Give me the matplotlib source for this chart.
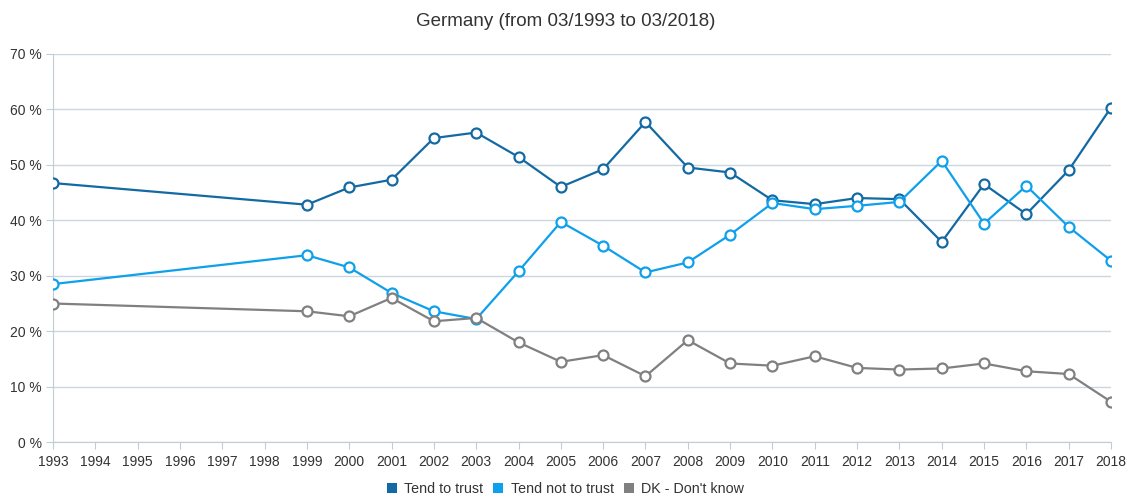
import matplotlib
matplotlib.use("Agg")
import matplotlib.pyplot as plt
from matplotlib.patches import Patch

plt.rcParams['font.family'] = ['Liberation Sans', 'DejaVu Sans']

years = [1993, 1999, 2000, 2001, 2002, 2003, 2004, 2005, 2006, 2007, 2008, 2009,
         2010, 2011, 2012, 2013, 2014, 2015, 2016, 2017, 2018]
trust = [46.7, 42.8, 45.9, 47.3, 54.8, 55.8, 51.4, 46.0, 49.2, 57.7, 49.5, 48.6,
         43.6, 42.9, 44.0, 43.8, 36.1, 46.5, 41.1, 49.0, 60.3]
not_trust = [28.5, 33.7, 31.5, 26.9, 23.6, 22.2, 30.8, 39.7, 35.4, 30.6, 32.4, 37.4,
             43.1, 42.0, 42.6, 43.3, 50.7, 39.4, 46.2, 38.8, 32.7]
dont_know = [25.0, 23.6, 22.7, 26.0, 21.8, 22.4, 18.0, 14.5, 15.7, 11.9, 18.4, 14.2,
             13.8, 15.5, 13.4, 13.1, 13.3, 14.2, 12.8, 12.3, 7.3]
series_names = ["Tend to trust", "Tend not to trust", "DK - Don't know"]
colors = ["#136aa3", "#0ea0ea", "#808080"]
tick_years = list(range(1993, 2019))
y_ticks = list(range(0, 71, 10))

fig = plt.figure(figsize=(11.31, 4.98), dpi=100)
ax = fig.add_axes([53/1131, 1-442.3/498, (1111-53)/1131, (442.3-53.7)/498])

for vals, c in zip([trust, not_trust, dont_know], colors):
    ax.plot(years, vals, color=c, lw=1.6, marker='o', ms=7.2, mfc='white',
            mec=c, mew=1.6, zorder=3)

ax.set_xlim(1993, 2018)
ax.set_ylim(0, 70)
ax.set_yticks(y_ticks)
ax.set_yticklabels([f"{v} %" for v in y_ticks])
ax.set_xticks(tick_years)
ax.set_xticklabels([str(y) for y in tick_years])
ax.grid(axis='y', color='#ccd6df', lw=1)
ax.set_axisbelow(True)
for s in ['top', 'right']:
    ax.spines[s].set_visible(False)
ax.spines['left'].set_color('#c0ccd6')
ax.spines['bottom'].set_color('#c0ccd6')
ax.tick_params(axis='y', length=5, color='#c0ccd6', labelsize=10, labelcolor='#333333', pad=3)
ax.tick_params(axis='x', length=5, color='#c0ccd6', labelsize=10, labelcolor='#333333', pad=4)

fig.suptitle("Germany (from 03/1993 to 03/2018)", y=1-21/498, fontsize=13.5, color='#333333', va='center')

handles = [Patch(facecolor=c, edgecolor='none') for c in colors]
fig.legend(handles, series_names, loc='center', bbox_to_anchor=(0.5, 1-489/498), ncol=3,
           frameon=False, fontsize=10.3, handlelength=0.7, handleheight=0.7,
           handletextpad=0.5, columnspacing=0.7, labelcolor='#333333')

fig.savefig("out.png", dpi=100)
